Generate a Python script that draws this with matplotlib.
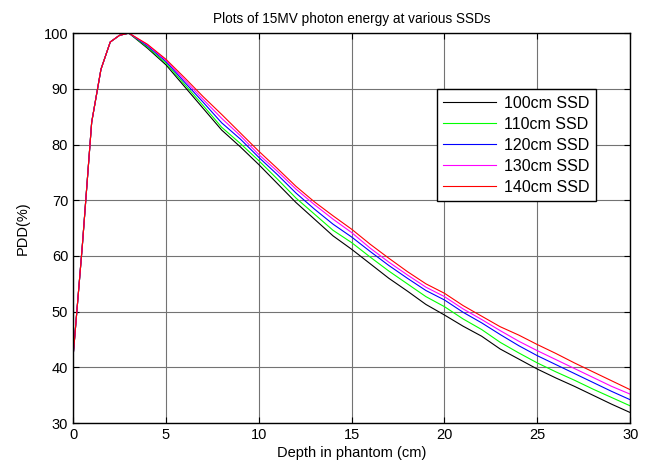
import matplotlib
matplotlib.use('Agg')
import matplotlib.pyplot as plt

plt.rcParams['font.family'] = ['Liberation Sans', 'DejaVu Sans']

# depth (cm)
depth = [0, 0.5, 1, 1.5, 2, 2.5, 3,
         4, 5, 6, 7, 8, 9, 10, 11, 12, 13, 14, 15, 16, 17, 18, 19, 20,
         21, 22, 23, 24, 25, 26, 27, 28, 29, 30]

buildup = [42, 62, 84, 93.5, 98.4, 99.6, 100]

pdd_100 = buildup + [97.3, 94.3, 90.4, 86.5, 82.6, 79.6, 76.4, 73.0, 69.6, 66.6,
                     63.6, 61.2, 58.6, 56.0, 53.7, 51.3, 49.4, 47.4, 45.6, 43.3,
                     41.5, 39.7, 38.1, 36.6, 35.0, 33.4, 31.9]
pdd_110 = buildup + [97.5, 94.6, 90.8, 87.0, 83.1, 80.2, 77.1, 73.8, 70.4, 67.5,
                     64.6, 62.4, 59.8, 57.3, 55.0, 52.7, 50.9, 48.7, 46.8, 44.5,
                     42.6, 40.8, 39.2, 37.7, 36.1, 34.6, 33.1]
pdd_120 = buildup + [97.7, 94.9, 91.2, 87.6, 83.9, 81.0, 77.7, 74.6, 71.3, 68.4,
                     65.7, 63.4, 60.8, 58.3, 56.0, 53.8, 52.1, 49.9, 48.0, 45.9,
                     43.9, 42.1, 40.5, 38.9, 37.3, 35.7, 34.2]
pdd_130 = buildup + [97.9, 95.1, 91.6, 88.1, 84.7, 81.6, 78.2, 75.2, 72.0, 69.2,
                     66.6, 64.2, 61.4, 58.9, 56.6, 54.4, 52.7, 50.5, 48.6, 46.6,
                     44.7, 43.0, 41.4, 39.8, 38.2, 36.6, 35.2]
pdd_140 = buildup + [98.0, 95.3, 92.0, 88.6, 85.4, 82.1, 78.8, 75.7, 72.5, 69.7,
                     67.2, 64.8, 62.1, 59.6, 57.2, 55.0, 53.3, 51.1, 49.2, 47.3,
                     45.8, 44.1, 42.5, 40.8, 39.2, 37.6, 36.0]

labels = ['100cm SSD', '110cm SSD', '120cm SSD', '130cm SSD', '140cm SSD']
colors = ['#000000', '#00ff00', '#0000ff', '#ff00ff', '#ff0000']
series = [pdd_100, pdd_110, pdd_120, pdd_130, pdd_140]

fig = plt.figure(figsize=(6.47, 4.66), dpi=100)
ax = fig.add_axes([0.113, 0.092, 0.861, 0.837])

for y, c, lab in zip(series, colors, labels):
    ax.plot(depth, y, color=c, lw=0.8, label=lab)

ax.set_xlim(0, 30)
ax.set_ylim(30, 100)
ax.set_xticks(range(0, 31, 5))
ax.set_yticks(range(30, 101, 10))
ax.grid(True, color='0.45', lw=0.8)
ax.tick_params(direction='in', top=True, right=True, length=4, labelsize=10.5)
for s in ax.spines.values():
    s.set_linewidth(1.0)

ax.set_title('Plots of 15MV photon energy at various SSDs', fontsize=9.8, pad=7)
ax.set_xlabel('Depth in phantom (cm)', fontsize=10.5, labelpad=3)
ax.set_ylabel('PDD(%)', fontsize=10.5, labelpad=10)

leg = ax.legend(loc='upper left', bbox_to_anchor=(0.653, 0.856), fontsize=11.5,
                fancybox=False, framealpha=1, edgecolor='black',
                handlelength=3.3, handletextpad=0.5, borderaxespad=0,
                labelspacing=0.38)
leg.get_frame().set_linewidth(1.0)

fig.savefig('out.png', dpi=100)
